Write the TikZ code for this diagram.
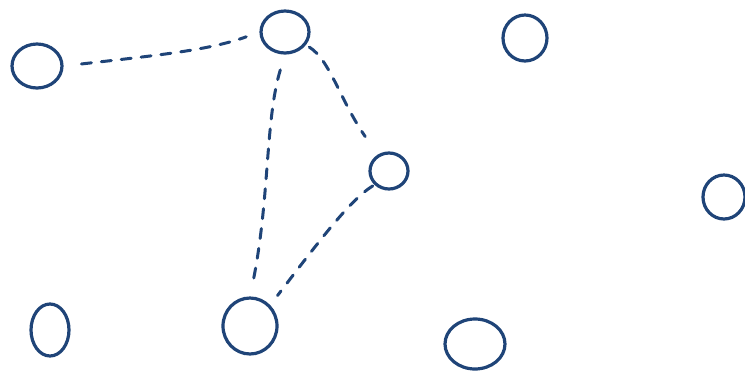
\documentclass[tikz,border=0pt]{standalone}
\usetikzlibrary{shapes.geometric}
\definecolor{ink}{HTML}{1F4478}
\begin{document}
\begin{tikzpicture}[x=1pt,y=-1pt,
  blob/.style={ellipse,draw=ink,line width=3.2pt,inner sep=0pt},
  link/.style={draw=ink,line width=3pt,line cap=round,dash pattern=on 10pt off 10pt}]
\useasboundingbox (0,0) rectangle (745,373);
\node[blob,minimum width=50pt,minimum height=44pt] (a) at (37,66) {};
\node[blob,minimum width=48pt,minimum height=42pt] (b) at (285,32) {};
\node[blob,minimum width=44pt,minimum height=46pt] (c) at (525,38) {};
\node[blob,minimum width=38pt,minimum height=36pt] (d) at (389,171) {};
\node[blob,minimum width=42pt,minimum height=44pt] (e) at (724,197) {};
\node[blob,minimum width=38pt,minimum height=52pt] (f) at (50,330) {};
\node[blob,minimum width=54pt,minimum height=56pt] (g) at (250,326) {};
\node[blob,minimum width=60pt,minimum height=50pt] (h) at (475,344) {};
\draw[link,shorten <=18pt,shorten >=14pt] (a.east) .. controls (160,55) and (210,50) .. (b.west);
\draw[link,shorten <=4pt,shorten >=22pt] (b) .. controls (330,60) and (340,100) .. (d);
\draw[link,shorten <=16pt,shorten >=12pt] (b.south) .. controls (265,120) and (270,200) .. (g.north);
\draw[link,shorten <=2pt,shorten >=12pt] (d.south west) .. controls (350,200) and (320,240) .. (g.north east);
\end{tikzpicture}
\end{document}
